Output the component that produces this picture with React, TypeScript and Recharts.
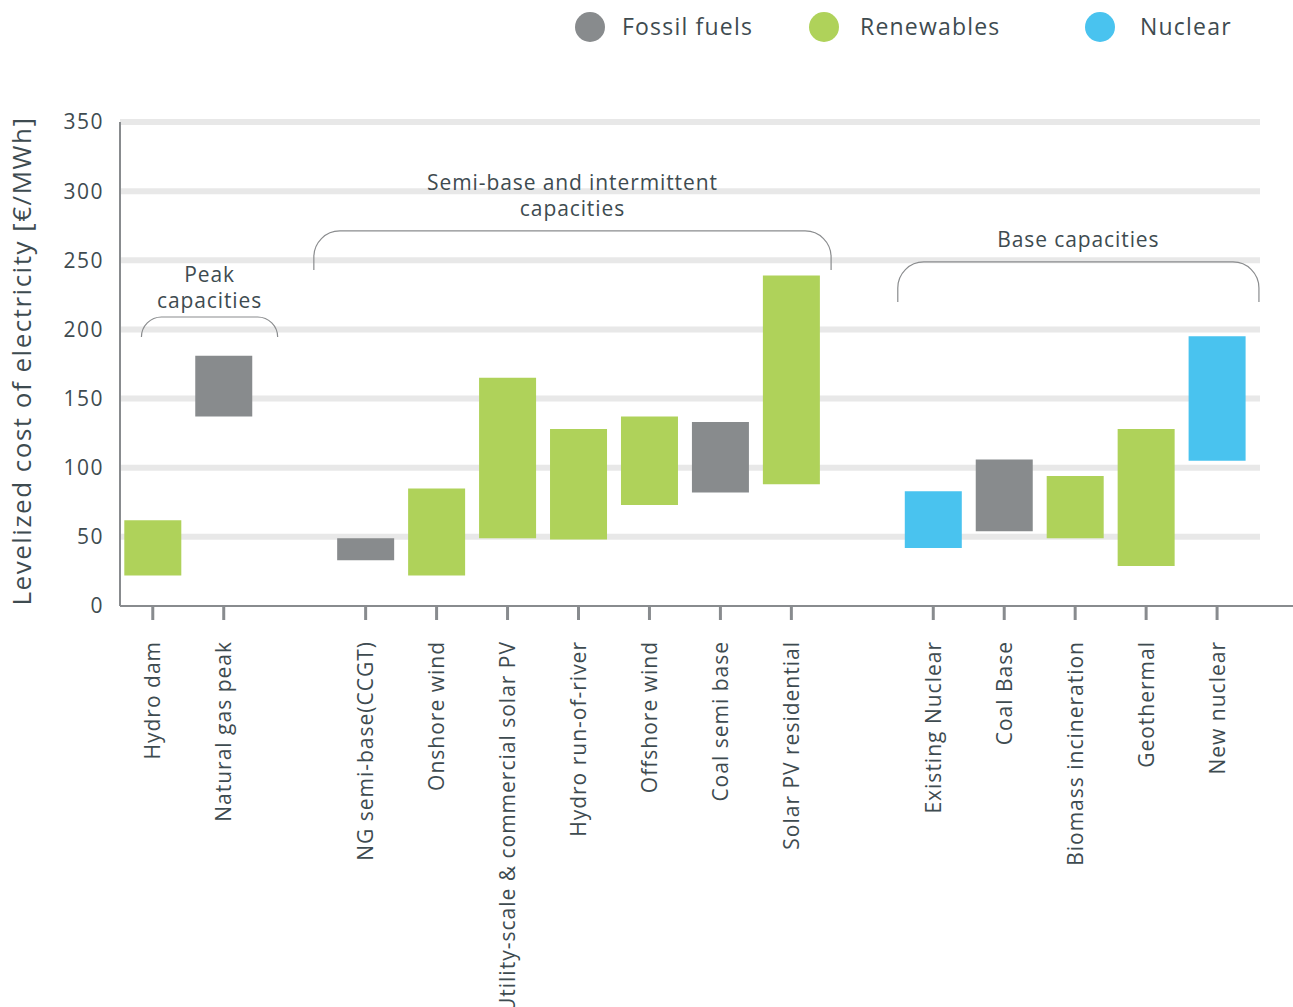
import React from "react";
import { BarChart, Bar, XAxis, YAxis, CartesianGrid, Cell, ReferenceArea } from "recharts";

// technologies, in the order they stand on the x axis
const technologies = [
  "Hydro dam",
  "Natural gas peak",
  "NG semi-base(CCGT)",
  "Onshore wind",
  "Utility-scale & commercial solar PV",
  "Hydro run-of-river",
  "Offshore wind",
  "Coal semi base",
  "Solar PV residential",
  "Existing Nuclear",
  "Coal Base",
  "Biomass incineration",
  "Geothermal",
  "New nuclear",
];
// slot on the axis (empty slots separate the three groups)
const slots = [0, 1, 3, 4, 5, 6, 7, 8, 9, 11, 12, 13, 14, 15];
const costLow = [22, 137, 33, 22, 49, 48, 73, 82, 88, 42, 54, 49, 29, 105];
const costHigh = [62, 181, 49, 85, 165, 128, 137, 133, 239, 83, 106, 94, 128, 195];
const sources = [
  "Renewables",
  "Fossil fuels",
  "Fossil fuels",
  "Renewables",
  "Renewables",
  "Renewables",
  "Renewables",
  "Fossil fuels",
  "Renewables",
  "Nuclear",
  "Fossil fuels",
  "Renewables",
  "Renewables",
  "Nuclear",
];
const sourceNames = ["Fossil fuels", "Renewables", "Nuclear"];
const yTicks = [0, 50, 100, 150, 200, 250, 300, 350];

// group brackets in data units
const groupLabels = [["Peak", "capacities"], ["Semi-base and intermittent", "capacities"], ["Base capacities"]];
const groupFrom = [-0.16, 2.27, 10.5];
const groupTo = [1.76, 9.56, 15.59];
const groupTop = [209, 271.2, 248.8];
const groupBottom = [194.5, 243, 219.8];
const groupLift = [16, 22, 22];

const COLORS: Record<string, string> = {
  "Fossil fuels": "#888b8d",
  Renewables: "#afd25a",
  Nuclear: "#49c3ef",
};
const FONT = "'Open Sans', sans-serif";
const TEXT = "#3e4b50";
const AXIS = "#888b8e";
const PLOT_BOTTOM = 606;

const rows = technologies.map((name, i) => ({
  name,
  slot: slots[i],
  range: [costLow[i], costHigh[i]],
  source: sources[i],
}));

const groups = groupLabels.map((lines, i) => ({
  lines,
  from: groupFrom[i],
  to: groupTo[i],
  top: groupTop[i],
  bottom: groupBottom[i],
  lift: groupLift[i],
}));

const XTick = (props: any) => {
  const { x, y, payload } = props;
  const idx = slots.indexOf(payload.value);
  if (idx < 0) return null;
  return (
    <g transform={`translate(${x},${y})`}>
      <text
        transform="rotate(-90)"
        x={0}
        y={0}
        dy="0.36em"
        textAnchor="end"
        fill={TEXT}
        fontSize={21}
        letterSpacing={1}
        fontFamily={FONT}
      >
        {technologies[idx]}
      </text>
    </g>
  );
};

const Bracket = (props: any) => {
  const { x, y, width, height, lines, lift } = props;
  const r = Math.min(26, height);
  const d = `M${x},${y + height} L${x},${y + r} A${r},${r} 0 0 1 ${x + r},${y} L${x + width - r},${y} A${r},${r} 0 0 1 ${x + width},${y + r} L${x + width},${y + height}`;
  const cx = x + width / 2;
  return (
    <g>
      <path d={d} fill="none" stroke="#8a8c8e" strokeWidth={1.2} />
      {lines.map((t: string, i: number) => (
        <text
          key={t + i}
          x={cx}
          y={y - lift - (lines.length - 1 - i) * 26}
          dy="0.35em"
          textAnchor="middle"
          fill={TEXT}
          fontSize={21}
          letterSpacing={0.9}
          fontFamily={FONT}
        >
          {t}
        </text>
      ))}
    </g>
  );
};

const gridLine = (props: any) => {
  if (props.y1 >= PLOT_BOTTOM - 1) return <g key={`h-${props.y1}`} />;
  return (
    <line
      key={`h-${props.y1}`}
      x1={props.x1}
      x2={props.x2 - 33}
      y1={props.y1}
      y2={props.y2}
      stroke="#e8e8e8"
      strokeWidth={6}
    />
  );
};

const legendDot = [590, 824, 1100];
const legendText = [622, 860, 1140];

export default function App() {
  return (
    <div
      style={{
        position: "absolute",
        left: 0,
        top: 0,
        width: 1293,
        height: 1007,
        background: "#fff",
        fontFamily: FONT,
      }}
    >
      {sourceNames.map((s, i) => (
        <React.Fragment key={s}>
          <div
            style={{
              position: "absolute",
              left: legendDot[i] - 15,
              top: 12,
              width: 30,
              height: 30,
              borderRadius: 15,
              background: COLORS[s],
            }}
          />
          <div
            style={{
              position: "absolute",
              left: legendText[i],
              top: 10,
              fontSize: 23,
              letterSpacing: 1.2,
              lineHeight: "32px",
              color: TEXT,
            }}
          >
            {s}
          </div>
        </React.Fragment>
      ))}
      <BarChart
        width={1293}
        height={1007}
        data={rows}
        margin={{ top: 122, right: 0, bottom: 0, left: 0 }}
      >
        <CartesianGrid vertical={false} horizontal={gridLine} />
        <XAxis
          type="number"
          dataKey="slot"
          domain={[-0.462, 16.07]}
          ticks={slots}
          interval={0}
          height={401}
          tickSize={14}
          tickMargin={21}
          tickLine={{ stroke: AXIS, strokeWidth: 3 }}
          axisLine={{ stroke: AXIS, strokeWidth: 2 }}
          tick={<XTick />}
          allowDataOverflow
        />
        <YAxis
          type="number"
          domain={[0, 350]}
          ticks={yTicks}
          interval={0}
          width={120}
          tickSize={0}
          tickMargin={16}
          tickLine={false}
          axisLine={{ stroke: AXIS, strokeWidth: 2 }}
          tick={{ fill: TEXT, fontSize: 21, letterSpacing: 1.5, fontFamily: FONT }}
          label={{
            content: (p: any) => {
              const vb = p.viewBox;
              return (
                <text
                  transform={`translate(${vb.x + 22},${vb.y + vb.height / 2 - 3}) rotate(-90)`}
                  textAnchor="middle"
                  dy="0.35em"
                  fill={TEXT}
                  fontSize={26}
                  letterSpacing={1.5}
                  fontFamily={FONT}
                >
                  Levelized cost of electricity [€/MWh]
                </text>
              );
            },
          }}
        />
        {groups.map((g, i) => (
          <ReferenceArea
            key={i}
            x1={g.from}
            x2={g.to}
            y1={g.bottom}
            y2={g.top}
            shape={(p: any) => <Bracket {...p} lines={g.lines} lift={g.lift} />}
          />
        ))}
        <Bar dataKey="range" barSize={57} isAnimationActive={false}>
          {rows.map((r, i) => (
            <Cell key={i} fill={COLORS[r.source]} />
          ))}
        </Bar>
      </BarChart>
    </div>
  );
}
